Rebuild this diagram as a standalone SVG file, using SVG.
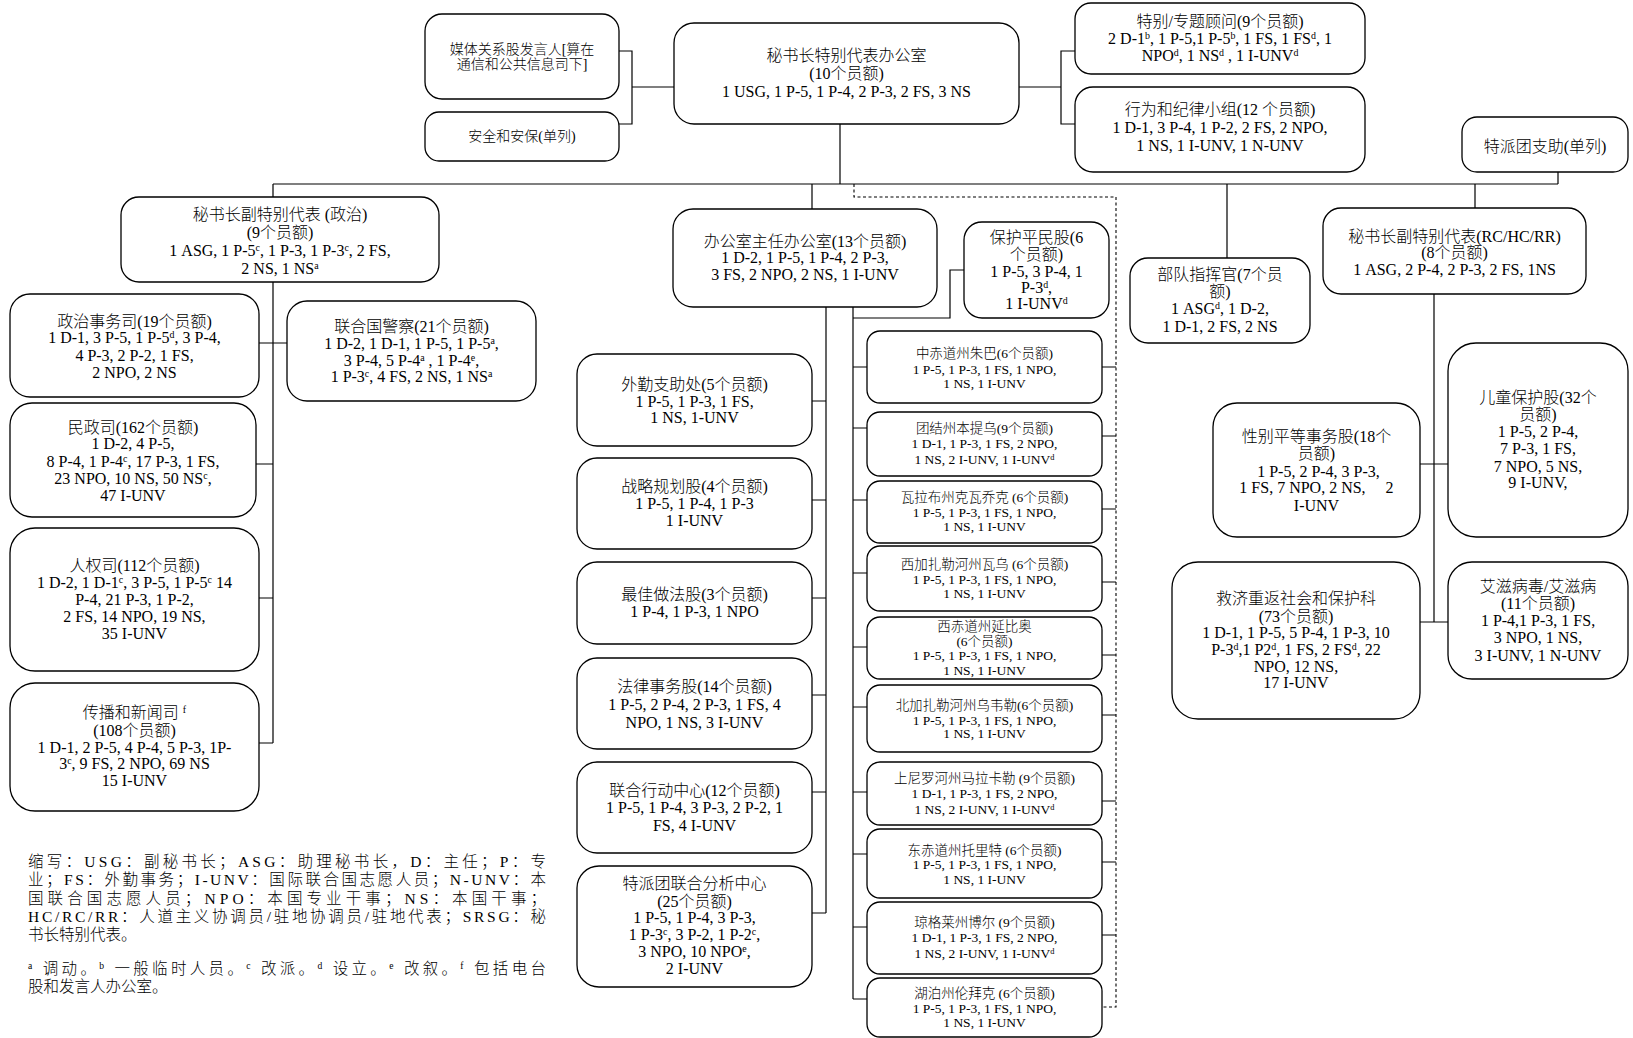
<svg xmlns="http://www.w3.org/2000/svg" width="1633" height="1038" viewBox="0 0 1633 1038">
<style>
.box{fill:#fff;stroke:#000;stroke-width:1.3}
.t{font-family:"Liberation Serif","Noto Sans CJK SC",serif;font-size:16px;font-weight:300;text-anchor:middle;fill:#000}
.m{font-size:14px}
.s{font-size:13.5px}
.lg{font-family:"Liberation Serif","Noto Sans CJK SC",serif;font-size:15.5px;font-weight:300;fill:#000}
.sup{font-size:62%;baseline-shift:super}
.ln{stroke:#000;stroke-width:1.2;fill:none}
.dash{stroke:#000;stroke-width:1.1;fill:none;stroke-dasharray:3 2.5}
</style>
<rect width="1633" height="1038" fill="#fff"/>

<g id="connectors">
<path class="ln" d="M619,51H632V124H619M632,87H674"/>
<path class="ln" d="M1019,87H1061M1075,51H1061V124H1075"/>
<path class="ln" d="M840,124V184M273,184H1558M1558,172V184"/>
<path class="ln" d="M273,184V197M812,184V209M1227,184V258M1475,184V208"/>
<path class="ln" d="M273,282V743M259,343H287M256,464H273M259,598H273M259,743H273"/>
<path class="ln" d="M826,307V913M812,401H826M812,500H826M812,598H826M812,695H826M812,792H826M812,913H826"/>
<path class="ln" d="M853,307V999M853,318H950V270H964"/>
<path class="ln" d="M853,367H867M853,428H867M853,500H867M853,573H867M853,647H867M853,707H867M853,792H867M853,854H867M853,927H867M853,999H867"/>
<path class="ln" d="M1102,367H1116M1102,436H1116M1102,509H1116M1102,582H1116M1102,655H1116M1102,715H1116M1102,801H1116M1102,862H1116M1102,935H1116"/>
<path class="dash" d="M854,184V197H1116V1007H1102"/>
<path class="ln" d="M1434,294V622M1420,464H1448M1420,622H1448"/>
</g>

<g id="media">
<rect class="box" x="425" y="14" width="194" height="85" rx="17"/>
<text class="t m"><tspan x="522" y="54">媒体关系股发言人[算在</tspan><tspan x="522" y="69">通信和公共信息司下]</tspan></text>
</g>
<g id="security">
<rect class="box" x="425" y="112" width="194" height="49" rx="14"/>
<text class="t m" x="522" y="141">安全和安保(单列)</text>
</g>
<g id="srsg">
<rect class="box" x="674" y="23" width="345" height="101" rx="20"/>
<text class="t"><tspan x="846.5" y="61">秘书长特别代表办公室</tspan><tspan x="846.5" y="79">(10个员额)</tspan><tspan x="846.5" y="97">1 USG, 1 P-5, 1 P-4, 2 P-3, 2 FS, 3 NS</tspan></text>
</g>
<g id="advisers">
<rect class="box" x="1075" y="3" width="290" height="71" rx="16"/>
<text class="t"><tspan x="1220" y="27">特别/专题顾问(9个员额)</tspan><tspan x="1220" y="44">2 D-1<tspan class="sup">b</tspan>, 1 P-5,1 P-5<tspan class="sup">b</tspan>, 1 FS, 1 FS<tspan class="sup">d</tspan>, 1</tspan><tspan x="1220" y="61">NPO<tspan class="sup">d</tspan>, 1 NS<tspan class="sup">d</tspan> , 1 I-UNV<tspan class="sup">d</tspan></tspan></text>
</g>
<g id="conduct">
<rect class="box" x="1075" y="87" width="290" height="85" rx="18"/>
<text class="t"><tspan x="1220" y="115">行为和纪律小组(12 个员额)</tspan><tspan x="1220" y="133">1 D-1, 3 P-4, 1 P-2, 2 FS, 2 NPO,</tspan><tspan x="1220" y="151">1 NS, 1 I-UNV, 1 N-UNV</tspan></text>
</g>
<g id="mission-support">
<rect class="box" x="1462" y="117" width="166" height="55" rx="15"/>
<text class="t" x="1545" y="152">特派团支助(单列)</text>
</g>

<g id="dsrsg-political">
<rect class="box" x="121" y="197" width="318" height="85" rx="18"/>
<text class="t"><tspan x="280" y="220">秘书长副特别代表 (政治)</tspan><tspan x="280" y="238">(9个员额)</tspan><tspan x="280" y="256">1 ASG, 1 P-5<tspan class="sup">c</tspan>, 1 P-3, 1 P-3<tspan class="sup">c</tspan>,  2 FS,</tspan><tspan x="280" y="274">2 NS, 1 NS<tspan class="sup">a</tspan></tspan></text>
</g>
<g id="political-affairs">
<rect class="box" x="10" y="294" width="249" height="103" rx="20"/>
<text class="t"><tspan x="134.5" y="327">政治事务司(19个员额)</tspan><tspan x="134.5" y="343">1 D-1, 3 P-5, 1 P-5<tspan class="sup">d</tspan>, 3 P-4,</tspan><tspan x="134.5" y="361">4 P-3, 2 P-2, 1 FS,</tspan><tspan x="134.5" y="378">2 NPO, 2 NS</tspan></text>
</g>
<g id="un-police">
<rect class="box" x="287" y="301" width="249" height="100" rx="20"/>
<text class="t"><tspan x="411.5" y="332">联合国警察(21个员额)</tspan><tspan x="411.5" y="349">1 D-2, 1 D-1, 1 P-5, 1 P-5<tspan class="sup">a</tspan>,</tspan><tspan x="411.5" y="366">3 P-4, 5 P-4<tspan class="sup">a</tspan> , 1 P-4<tspan class="sup">e</tspan>,</tspan><tspan x="411.5" y="382">1 P-3<tspan class="sup">c</tspan>, 4 FS, 2 NS, 1 NS<tspan class="sup">a</tspan></tspan></text>
</g>
<g id="civil-affairs">
<rect class="box" x="10" y="403" width="246" height="114" rx="22"/>
<text class="t"><tspan x="133" y="433">民政司(162个员额)</tspan><tspan x="133" y="449">1 D-2, 4 P-5,</tspan><tspan x="133" y="467">8 P-4, 1 P-4<tspan class="sup">c</tspan>, 17 P-3, 1 FS,</tspan><tspan x="133" y="484">23 NPO, 10 NS, 50 NS<tspan class="sup">c</tspan>,</tspan><tspan x="133" y="501">47 I-UNV</tspan></text>
</g>
<g id="human-rights">
<rect class="box" x="10" y="528" width="249" height="143" rx="25"/>
<text class="t"><tspan x="134.5" y="571">人权司(112个员额)</tspan><tspan x="134.5" y="588">1 D-2, 1 D-1<tspan class="sup">c</tspan>, 3 P-5, 1 P-5<tspan class="sup">c</tspan> 14</tspan><tspan x="134.5" y="605">P-4, 21 P-3, 1 P-2,</tspan><tspan x="134.5" y="622">2 FS, 14 NPO, 19 NS,</tspan><tspan x="134.5" y="639">35 I-UNV</tspan></text>
</g>
<g id="communications">
<rect class="box" x="10" y="683" width="249" height="128" rx="25"/>
<text class="t"><tspan x="134.5" y="718">传播和新闻司 <tspan class="sup">f</tspan></tspan><tspan x="134.5" y="736">(108个员额)</tspan><tspan x="134.5" y="753">1 D-1, 2 P-5, 4 P-4, 5 P-3, 1P-</tspan><tspan x="134.5" y="769">3<tspan class="sup">c</tspan>, 9 FS, 2 NPO, 69 NS</tspan><tspan x="134.5" y="786">15 I-UNV</tspan></text>
</g>

<g id="chief-of-staff">
<rect class="box" x="673" y="209" width="264" height="98" rx="20"/>
<text class="t"><tspan x="805" y="247">办公室主任办公室(13个员额)</tspan><tspan x="805" y="263">1 D-2, 1 P-5, 1 P-4, 2 P-3,</tspan><tspan x="805" y="280">3 FS, 2 NPO, 2 NS, 1 I-UNV</tspan></text>
</g>
<g id="civilians-protection">
<rect class="box" x="964" y="222" width="145" height="96" rx="18"/>
<text class="t"><tspan x="1036.5" y="243">保护平民股(6</tspan><tspan x="1036.5" y="260">个员额)</tspan><tspan x="1036.5" y="277">1 P-5, 3 P-4, 1</tspan><tspan x="1036.5" y="293">P-3<tspan class="sup">d</tspan>,</tspan><tspan x="1036.5" y="309">1 I-UNV<tspan class="sup">d</tspan></tspan></text>
</g>
<g id="field-support">
<rect class="box" x="577" y="354" width="235" height="92" rx="20"/>
<text class="t"><tspan x="694.5" y="390">外勤支助处(5个员额)</tspan><tspan x="694.5" y="407">1 P-5, 1 P-3, 1 FS,</tspan><tspan x="694.5" y="423">1 NS, 1-UNV</tspan></text>
</g>
<g id="strategic-planning">
<rect class="box" x="577" y="458" width="235" height="91" rx="20"/>
<text class="t"><tspan x="694.5" y="492">战略规划股(4个员额)</tspan><tspan x="694.5" y="509">1 P-5, 1 P-4, 1 P-3</tspan><tspan x="694.5" y="526">1 I-UNV</tspan></text>
</g>
<g id="best-practices">
<rect class="box" x="577" y="562" width="235" height="82" rx="20"/>
<text class="t"><tspan x="694.5" y="600">最佳做法股(3个员额)</tspan><tspan x="694.5" y="617">1 P-4, 1 P-3, 1 NPO</tspan></text>
</g>
<g id="legal-affairs">
<rect class="box" x="577" y="658" width="235" height="91" rx="20"/>
<text class="t"><tspan x="694.5" y="692">法律事务股(14个员额)</tspan><tspan x="694.5" y="710">1 P-5, 2 P-4, 2 P-3, 1 FS, 4</tspan><tspan x="694.5" y="728">NPO, 1 NS, 3 I-UNV</tspan></text>
</g>
<g id="joint-operations">
<rect class="box" x="577" y="762" width="235" height="91" rx="20"/>
<text class="t"><tspan x="694.5" y="796">联合行动中心(12个员额)</tspan><tspan x="694.5" y="813">1 P-5, 1 P-4, 3 P-3, 2 P-2, 1</tspan><tspan x="694.5" y="831">FS, 4 I-UNV</tspan></text>
</g>
<g id="jmac">
<rect class="box" x="577" y="866" width="235" height="121" rx="22"/>
<text class="t"><tspan x="694.5" y="889">特派团联合分析中心</tspan><tspan x="694.5" y="907">(25个员额)</tspan><tspan x="694.5" y="923">1 P-5, 1 P-4, 3 P-3,</tspan><tspan x="694.5" y="940">1 P-3<tspan class="sup">c</tspan>, 3 P-2, 1 P-2<tspan class="sup">c</tspan>,</tspan><tspan x="694.5" y="957">3 NPO, 10 NPO<tspan class="sup">e</tspan>,</tspan><tspan x="694.5" y="974">2 I-UNV</tspan></text>
</g>

<g id="central-equatoria">
<rect class="box" x="867" y="331" width="235" height="72" rx="13"/>
<text class="t s"><tspan x="984.5" y="358">中赤道州朱巴(6个员额)</tspan><tspan x="984.5" y="374">1 P-5, 1 P-3, 1 FS, 1 NPO,</tspan><tspan x="984.5" y="388">1 NS, 1 I-UNV</tspan></text>
</g>
<g id="unity">
<rect class="box" x="867" y="412" width="235" height="64" rx="13"/>
<text class="t s"><tspan x="984.5" y="433">团结州本提乌(9个员额)</tspan><tspan x="984.5" y="448">1 D-1, 1 P-3, 1 FS, 2 NPO,</tspan><tspan x="984.5" y="464">1 NS, 2 I-UNV, 1 I-UNV<tspan class="sup">d</tspan></tspan></text>
</g>
<g id="warrap">
<rect class="box" x="867" y="481" width="235" height="62" rx="13"/>
<text class="t s"><tspan x="984.5" y="502">瓦拉布州克瓦乔克 (6个员额)</tspan><tspan x="984.5" y="517">1 P-5, 1 P-3, 1 FS, 1 NPO,</tspan><tspan x="984.5" y="531">1 NS, 1 I-UNV</tspan></text>
</g>
<g id="western-bahr-el-ghazal">
<rect class="box" x="867" y="546" width="235" height="65" rx="13"/>
<text class="t s"><tspan x="984.5" y="569">西加扎勒河州瓦乌 (6个员额)</tspan><tspan x="984.5" y="584">1 P-5, 1 P-3, 1 FS, 1 NPO,</tspan><tspan x="984.5" y="598">1 NS, 1 I-UNV</tspan></text>
</g>
<g id="western-equatoria">
<rect class="box" x="867" y="617" width="235" height="62" rx="13"/>
<text class="t s"><tspan x="984.5" y="631">西赤道州延比奥</tspan><tspan x="984.5" y="646">(6个员额)</tspan><tspan x="984.5" y="660">1 P-5, 1 P-3, 1 FS, 1 NPO,</tspan><tspan x="984.5" y="675">1 NS, 1 I-UNV</tspan></text>
</g>
<g id="northern-bahr-el-ghazal">
<rect class="box" x="867" y="685" width="235" height="67" rx="13"/>
<text class="t s"><tspan x="984.5" y="710">北加扎勒河州乌韦勒(6个员额)</tspan><tspan x="984.5" y="725">1 P-5, 1 P-3, 1 FS, 1 NPO,</tspan><tspan x="984.5" y="738">1 NS, 1 I-UNV</tspan></text>
</g>
<g id="upper-nile">
<rect class="box" x="867" y="762" width="235" height="63" rx="13"/>
<text class="t s"><tspan x="984.5" y="783">上尼罗河州马拉卡勒 (9个员额)</tspan><tspan x="984.5" y="798">1 D-1, 1 P-3, 1 FS, 2 NPO,</tspan><tspan x="984.5" y="814">1 NS, 2 I-UNV, 1 I-UNV<tspan class="sup">d</tspan></tspan></text>
</g>
<g id="eastern-equatoria">
<rect class="box" x="867" y="829" width="235" height="69" rx="13"/>
<text class="t s"><tspan x="984.5" y="855">东赤道州托里特 (6个员额)</tspan><tspan x="984.5" y="869">1 P-5, 1 P-3, 1 FS, 1 NPO,</tspan><tspan x="984.5" y="884">1 NS, 1 I-UNV</tspan></text>
</g>
<g id="jonglei">
<rect class="box" x="867" y="902" width="235" height="72" rx="13"/>
<text class="t s"><tspan x="984.5" y="927">琼格莱州博尔 (9个员额)</tspan><tspan x="984.5" y="942">1 D-1, 1 P-3, 1 FS, 2 NPO,</tspan><tspan x="984.5" y="958">1 NS, 2 I-UNV, 1 I-UNV<tspan class="sup">d</tspan></tspan></text>
</g>
<g id="lakes">
<rect class="box" x="867" y="978" width="235" height="59" rx="13"/>
<text class="t s"><tspan x="984.5" y="998">湖泊州伦拜克 (6个员额)</tspan><tspan x="984.5" y="1013">1 P-5, 1 P-3, 1 FS, 1 NPO,</tspan><tspan x="984.5" y="1027">1 NS, 1 I-UNV</tspan></text>
</g>

<g id="force-commander">
<rect class="box" x="1130" y="258" width="180" height="85" rx="18"/>
<text class="t"><tspan x="1220" y="280">部队指挥官(7个员</tspan><tspan x="1220" y="297">额)</tspan><tspan x="1220" y="314">1 ASG<tspan class="sup">d</tspan>, 1 D-2,</tspan><tspan x="1220" y="332">1 D-1, 2 FS, 2 NS</tspan></text>
</g>
<g id="dsrsg-rc-hc-rr">
<rect class="box" x="1323" y="208" width="263" height="86" rx="18"/>
<text class="t"><tspan x="1454.5" y="242">秘书长副特别代表(RC/HC/RR)</tspan><tspan x="1454.5" y="258">(8个员额)</tspan><tspan x="1454.5" y="275">1 ASG, 2 P-4, 2 P-3, 2 FS, 1NS</tspan></text>
</g>
<g id="gender">
<rect class="box" x="1213" y="403" width="207" height="134" rx="24"/>
<text class="t" xml:space="preserve"><tspan x="1316.5" y="442">性别平等事务股(18个</tspan><tspan x="1316.5" y="459">员额)</tspan><tspan x="1316.5" y="477"> 1 P-5, 2 P-4, 3 P-3,</tspan><tspan x="1316.5" y="493">1 FS, 7 NPO, 2 NS,     2</tspan><tspan x="1316.5" y="511">I-UNV</tspan></text>
</g>
<g id="child-protection">
<rect class="box" x="1448" y="343" width="180" height="194" rx="28"/>
<text class="t"><tspan x="1538" y="403">儿童保护股(32个</tspan><tspan x="1538" y="420">员额)</tspan><tspan x="1538" y="437">1 P-5, 2 P-4,</tspan><tspan x="1538" y="454">7 P-3, 1 FS,</tspan><tspan x="1538" y="472">7 NPO, 5 NS,</tspan><tspan x="1538" y="488">9 I-UNV,</tspan></text>
</g>
<g id="ddr">
<rect class="box" x="1172" y="562" width="248" height="157" rx="26"/>
<text class="t"><tspan x="1296" y="604">救济重返社会和保护科</tspan><tspan x="1296" y="622">(73个员额)</tspan><tspan x="1296" y="638">1 D-1, 1 P-5, 5 P-4, 1 P-3, 10</tspan><tspan x="1296" y="655">P-3<tspan class="sup">d</tspan>,1 P2<tspan class="sup">d</tspan>, 1 FS, 2 FS<tspan class="sup">d</tspan>, 22</tspan><tspan x="1296" y="672">NPO, 12 NS,</tspan><tspan x="1296" y="688">17 I-UNV</tspan></text>
</g>
<g id="hiv-aids">
<rect class="box" x="1448" y="562" width="180" height="117" rx="24"/>
<text class="t"><tspan x="1538" y="592">艾滋病毒/艾滋病</tspan><tspan x="1538" y="609">(11个员额)</tspan><tspan x="1538" y="626">1 P-4,1 P-3, 1 FS,</tspan><tspan x="1538" y="643">3 NPO, 1 NS,</tspan><tspan x="1538" y="661">3 I-UNV, 1 N-UNV</tspan></text>
</g>

<g id="legend">
<text class="lg" x="28" y="867" textLength="518" lengthAdjust="spacing">缩写：USG：副秘书长；ASG：助理秘书长，D：主任；P：专</text>
<text class="lg" x="28" y="885" textLength="518" lengthAdjust="spacing">业；FS：外勤事务；I-UNV：国际联合国志愿人员；N-UNV：本</text>
<text class="lg" x="28" y="904" textLength="518" lengthAdjust="spacing">国联合国志愿人员；NPO：本国专业干事；NS：本国干事；</text>
<text class="lg" x="28" y="922" textLength="518" lengthAdjust="spacing">HC/RC/RR：人道主义协调员/驻地协调员/驻地代表；SRSG：秘</text>
<text class="lg" x="28" y="940">书长特别代表。</text>
<text class="lg" x="28" y="974" textLength="518" lengthAdjust="spacing"><tspan class="sup">a</tspan> 调动。<tspan class="sup">b</tspan> 一般临时人员。<tspan class="sup">c</tspan> 改派。<tspan class="sup">d</tspan> 设立。<tspan class="sup">e</tspan> 改叙。<tspan class="sup">f</tspan> 包括电台</text>
<text class="lg" x="28" y="992">股和发言人办公室。</text>
</g>
</svg>
